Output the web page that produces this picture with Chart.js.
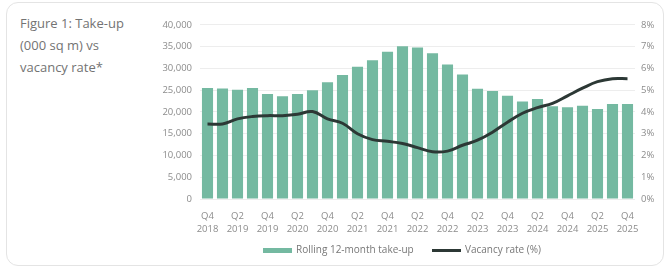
<!DOCTYPE html>
<html>
<head>
<meta charset="utf-8">
<script src="https://cdn.jsdelivr.net/npm/chart.js@4"></script>
<style>
  html, body { margin: 0; padding: 0; background: #fff; }
  body { width: 666px; height: 268px; position: relative; overflow: hidden; font-family: "Open Sans", sans-serif; }
  .card {
    position: absolute; left: 6px; top: 2px; width: 658px; height: 264px;
    border: 1px solid #e4e4e4; border-radius: 12px; box-sizing: border-box;
  }
  .title {
    position: absolute; left: 20px; top: 12px; width: 125px;
    font-size: 13px; line-height: 22px; color: #737373;
  }
  .chart-wrap { position: absolute; left: 150px; top: 10px; width: 510px; height: 232px; }
  .legend {
    position: absolute; top: 241px; left: 0; width: 666px; height: 16px;
    font-size: 10px; line-height: 16px; color: #777; white-space: nowrap;
  }
  .legend .item { position: absolute; top: 0; }
  .legend .sw { display: inline-block; width: 29px; vertical-align: middle; margin-right: 4px; }
</style>
</head>
<body>
<div class="card"></div>
<div class="title">Figure 1: Take-up (000 sq m) vs vacancy rate*</div>
<div class="chart-wrap"><canvas id="chart"></canvas></div>
<div class="legend" id="legend"></div>
<script>
// 季度標籤（Q4 2018 – Q4 2025）
const quarters = [
  "Q4 2018",
  "Q1 2019", "Q2 2019", "Q3 2019", "Q4 2019",
  "Q1 2020", "Q2 2020", "Q3 2020", "Q4 2020",
  "Q1 2021", "Q2 2021", "Q3 2021", "Q4 2021",
  "Q1 2022", "Q2 2022", "Q3 2022", "Q4 2022",
  "Q1 2023", "Q2 2023", "Q3 2023", "Q4 2023",
  "Q1 2024", "Q2 2024", "Q3 2024", "Q4 2024",
  "Q1 2025", "Q2 2025", "Q3 2025", "Q4 2025"
];

// 滾動 12 個月成交量 (000 sq m)
const takeUp = [
  25500, 25400, 25100, 25500, 24100, 23600, 24100, 25000,
  26800, 28500, 30400, 31900, 33800, 35100, 34800, 33500,
  30900, 28600, 25300, 24800, 23700, 22400, 23000, 21300,
  21100, 21400, 20700, 21800, 21800
];

// 空置率 (%)
const vacancy = [
  3.45, 3.45, 3.68, 3.79, 3.83, 3.83, 3.89, 4.02,
  3.68, 3.48, 3.0, 2.73, 2.65, 2.55, 2.36, 2.17,
  2.2, 2.47, 2.7, 3.07, 3.53, 3.94, 4.2, 4.39,
  4.74, 5.09, 5.39, 5.53, 5.53
];

const barColor = "#74b9a1";
const lineColor = "#2c3835";
const tickColor = "#8c8c8c";
const tickFont = { family: "Open Sans", size: 9.5, lineHeight: 1.45 };

const ctx = document.getElementById("chart").getContext("2d");
const chart = new Chart(ctx, {
  type: "bar",
  data: {
    labels: quarters,
    datasets: [
      {
        type: "line",
        label: "Vacancy rate (%)",
        data: vacancy,
        yAxisID: "y1",
        borderColor: lineColor,
        backgroundColor: lineColor,
        borderWidth: 3,
        pointRadius: 0,
        tension: 0.4,
        order: 0
      },
      {
        type: "bar",
        label: "Rolling 12-month take-up",
        data: takeUp,
        yAxisID: "y",
        backgroundColor: barColor,
        borderWidth: 0,
        barPercentage: 0.74,
        categoryPercentage: 1,
        order: 1
      }
    ]
  },
  options: {
    responsive: true,
    maintainAspectRatio: false,
    animation: false,
    layout: { padding: { top: 13, bottom: 5 } },
    plugins: {
      tooltip: { enabled: false },
      legend: { display: false }
    },
    scales: {
      x: {
        grid: { display: false },
        border: { display: false },
        ticks: {
          color: tickColor,
          font: tickFont,
          autoSkip: false,
          maxRotation: 0,
          padding: 2,
          callback: function (val, i) {
            return i % 2 === 0 ? quarters[i].split(" ") : "";
          }
        },
        afterFit: function (s) { s.height = 38; }
      },
      y: {
        position: "left",
        min: 0,
        max: 40000,
        ticks: {
          stepSize: 5000,
          color: tickColor,
          font: tickFont,
          padding: 8,
          callback: v => v.toLocaleString("en-US")
        },
        grid: { color: "#ededed", lineWidth: 1, drawTicks: false },
        border: { display: false },
        afterFit: function (s) { s.width = 50; }
      },
      y1: {
        position: "right",
        min: 0,
        max: 8,
        ticks: {
          stepSize: 1,
          color: tickColor,
          font: tickFont,
          padding: 6,
          callback: v => v + "%"
        },
        grid: { display: false, drawTicks: false },
        border: { display: false },
        afterFit: function (s) { s.width = 25; }
      }
    }
  }
});

// 圖例：依資料集顏色生成（柱狀在前，折線在後）
const legendEl = document.getElementById("legend");
const legendItems = [
  { ds: chart.data.datasets[1], left: 263, h: 5 },
  { ds: chart.data.datasets[0], left: 432, h: 3 }
];
legendItems.forEach(it => {
  const item = document.createElement("span");
  item.className = "item";
  item.style.left = it.left + "px";
  const sw = document.createElement("span");
  sw.className = "sw";
  sw.style.height = it.h + "px";
  sw.style.background = it.ds.type === "line" ? it.ds.borderColor : it.ds.backgroundColor;
  item.appendChild(sw);
  item.appendChild(document.createTextNode(it.ds.label));
  legendEl.appendChild(item);
});
</script>
</body>
</html>
